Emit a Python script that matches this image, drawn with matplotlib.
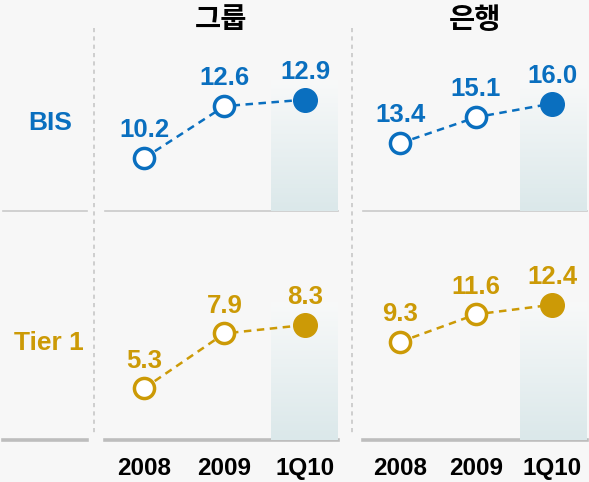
import numpy as np
import matplotlib
matplotlib.use('Agg')
import matplotlib.pyplot as plt
from matplotlib.colors import LinearSegmentedColormap

plt.rcParams['font.family'] = ['Liberation Sans', 'Noto Sans CJK KR', 'DejaVu Sans']

# 데이터
periods = ['2008', '2009', '1Q10']
panel_titles = ['그룹', '은행']
row_labels = ['BIS', 'Tier 1']
bis_group = [10.2, 12.6, 12.9]
bis_bank = [13.4, 15.1, 16.0]
tier1_group = [5.3, 7.9, 8.3]
tier1_bank = [9.3, 11.6, 12.4]

BG = '#f7f7f7'
BLUE = '#0a6fbf'
GOLD = '#cc9a06'
W, H = 589, 482

fig = plt.figure(figsize=(W / 100, H / 100), dpi=100, facecolor=BG)

# 배경용 축 (픽셀 좌표)
bg = fig.add_axes([0, 0, 1, 1])
bg.set_xlim(0, W)
bg.set_ylim(H, 0)
bg.axis('off')


def rect(x0, y0, x1, y1):
    return [x0 / W, 1 - y1 / H, (x1 - x0) / W, (y1 - y0) / H]


cols = [(105, 338), (363, 587)]
rows = [(0, 211), (211, 440)]
xlims = [(-0.484, 2.41), (-0.487, 2.46)]
ylims = [[(7.77, 17.49), (8.97, 22.77)],
         [(2.86, 13.69), (1.12, 20.22)]]
box_frac = [0.62, 0.60]
data = [[bis_group, bis_bank], [tier1_group, tier1_bank]]
colors = [BLUE, GOLD]

cmap = LinearSegmentedColormap.from_list('hl', ['#f8f9f9', '#dbe8ea'])
grad = np.linspace(0, 1, 200).reshape(-1, 1)

# 구분선
for x0, x1 in [(3, 87), (105, 338), (363, 587)]:
    bg.plot([x0, x1], [211, 211], color='#cacaca', lw=1.2)
    bg.plot([x0, x1], [440, 440], color='#bdbdbd', lw=2.6)
bg.vlines([94, 352], 28, 435, colors='#c8c8c8', linestyles=(0, (2.5, 2.5)), lw=1.2)

# 행 라벨
bg.text(50, 123, row_labels[0], color=BLUE, fontsize=19, fontweight='bold', ha='center', va='center')
bg.text(49, 343, row_labels[1], color=GOLD, fontsize=19, fontweight='bold', ha='center', va='center')

x = np.arange(len(periods))
for r in range(2):
    for c in range(2):
        ax = fig.add_axes(rect(cols[c][0], rows[r][0], cols[c][1], rows[r][1]))
        ax.patch.set_alpha(0)
        for s in ax.spines.values():
            s.set_visible(False)
        vals = data[r][c]
        col = colors[r]
        y0, y1 = ylims[r][c]
        ytop = y0 + box_frac[r] * (y1 - y0)
        ax.imshow(grad, extent=(1.58, xlims[c][1], y0, ytop), cmap=cmap,
                  aspect='auto', origin='upper', zorder=0)
        ax.plot(x, vals, ls=(0, (3.0, 2.2)), lw=1.8, color=col, zorder=2)
        ax.plot(x[:2], vals[:2], 'o', ms=14.5, mfc='white', mec=col, mew=2.5, zorder=3)
        ax.plot(x[2:], vals[2:], 'o', ms=17, color=col, zorder=3)
        for i, v in enumerate(vals):
            ax.annotate(f'{v:.1f}', (i, v), xytext=(0, 20), textcoords='offset points',
                        ha='center', va='center', fontsize=18.5, fontweight='bold', color=col)
        ax.set_xlim(*xlims[c])
        ax.set_ylim(y0, y1)
        ax.set_yticks([])
        if r == 1:
            ax.set_xticks(x)
            ax.set_xticklabels(periods, fontsize=17.5, fontweight='bold')
            ax.tick_params(axis='x', length=0, pad=12)
        else:
            ax.set_xticks([])
            ax.text(0.5, 0.90, panel_titles[c], transform=ax.transAxes, ha='center',
                    va='center', fontsize=20.5, fontweight='bold', color='black')

fig.savefig('out.png', dpi=100, facecolor=BG)
